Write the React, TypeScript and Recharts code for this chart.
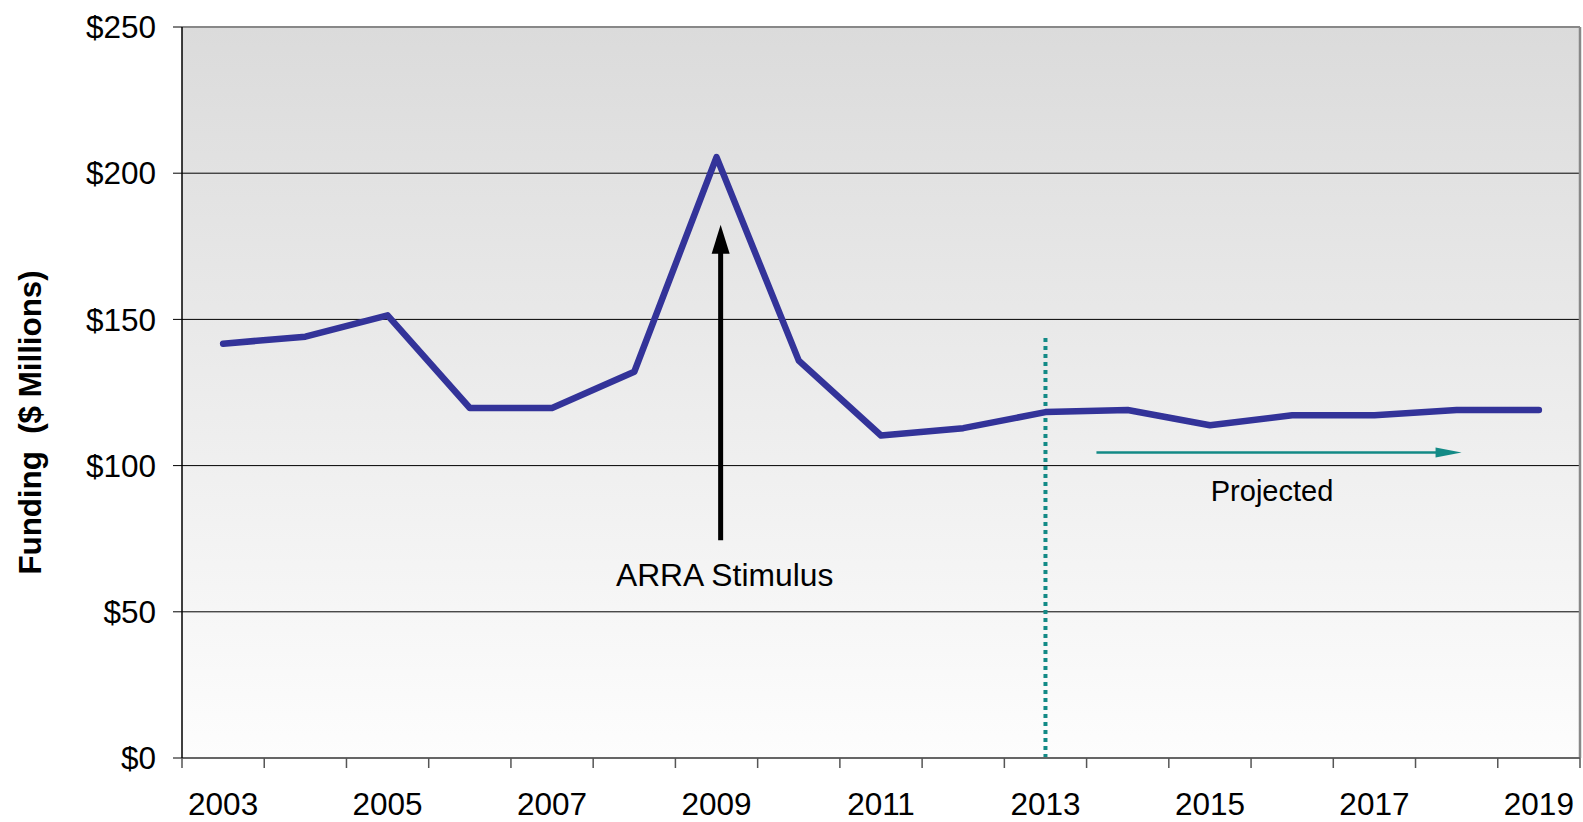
import React from 'react';
import { LineChart, Line, XAxis, YAxis, CartesianGrid, ReferenceLine } from 'recharts';

const years = [2003, 2004, 2005, 2006, 2007, 2008, 2009, 2010, 2011, 2012, 2013, 2014, 2015, 2016, 2017, 2018, 2019];
const funding = [141.7, 144.1, 151.4, 119.7, 119.7, 132.1, 205.5, 135.9, 110.3, 112.8, 118.3, 119, 113.8, 117.2, 117.2, 119, 119];
const yTicks = [0, 50, 100, 150, 200, 250];
const labelYears = [2003, 2005, 2007, 2009, 2011, 2013, 2015, 2017, 2019];

const data = years.map((year, i) => ({ year, funding: funding[i] }));
// tick marks sit between the years, labels on every other year
const boundaries = [years[0] - 0.5, ...years.map((y) => y + 0.5)];
const xTicks = [...boundaries, ...labelYears].sort((a, b) => a - b);

const FONT = '"Liberation Sans", Arial, sans-serif';
const TEAL = '#138a86';

const XTick = (props: any) => {
  const { x, y, payload } = props;
  const v = payload.value;
  if (v % 1 !== 0) {
    return <line x1={x} x2={x} y1={y} y2={y + 10} stroke="#555" strokeWidth={1.5} />;
  }
  return (
    <text x={x} y={y + 57} textAnchor="middle" fontSize={31.5} fontFamily={FONT} fill="#000">
      {v}
    </text>
  );
};

const StimulusArrow = (p: any) => {
  const { x1, y1, x2, y2 } = p;
  return (
    <g>
      <line x1={x1} y1={y1} x2={x2} y2={y2 + 26} stroke="#000" strokeWidth={5} />
      <polygon points={`${x2},${y2} ${x2 - 9},${y2 + 29} ${x2 + 9},${y2 + 29}`} fill="#000" />
      <text x={x1 + 4} y={y1 + 46} textAnchor="middle" fontSize={31.8} fontFamily={FONT} fill="#000">
        ARRA Stimulus
      </text>
    </g>
  );
};

const ProjectedArrow = (p: any) => {
  const { x1, y1, x2, y2 } = p;
  return (
    <g>
      <line x1={x1} y1={y1} x2={x2 - 22} y2={y2} stroke={TEAL} strokeWidth={2.5} />
      <polygon points={`${x2},${y2} ${x2 - 26},${y2 - 5} ${x2 - 26},${y2 + 5}`} fill={TEAL} />
      <text x={(x1 + x2) / 2 - 7} y={y1 + 49} textAnchor="middle" fontSize={29} fontFamily={FONT} fill="#000">
        Projected
      </text>
    </g>
  );
};

const YLabel = (props: any) => {
  const { viewBox } = props;
  const cx = viewBox.x + 30;
  const cy = viewBox.y + viewBox.height / 2 + 30;
  return (
    <text
      x={cx}
      y={cy}
      transform={`rotate(-90, ${cx}, ${cy})`}
      textAnchor="middle"
      dominantBaseline="central"
      fontSize={31.3}
      fontWeight="bold"
      fontFamily={FONT}
      fill="#000"
      style={{ whiteSpace: 'pre' }}
    >
      {'Funding  ($ Millions)'}
    </text>
  );
};

export default function App() {
  return (
    <div style={{ position: 'absolute', left: 0, top: 0, background: '#fff' }}>
      <LineChart
        width={1583}
        height={822}
        data={data}
        margin={{ top: 27, right: 3, bottom: 0, left: 0 }}
        style={{ fontFamily: FONT }}
      >
        <defs>
          <linearGradient id="bgGrad" x1="0" y1="0" x2="0" y2="1">
            <stop offset="0%" stopColor="#dbdbdb" />
            <stop offset="100%" stopColor="#fdfdfd" />
          </linearGradient>
        </defs>
        <CartesianGrid vertical={false} stroke="#000" strokeWidth={1} fill="url(#bgGrad)" fillOpacity={1} />
        <XAxis
          dataKey="year"
          type="number"
          domain={[boundaries[0], boundaries[boundaries.length - 1]]}
          ticks={xTicks}
          interval={0}
          tick={<XTick />}
          tickLine={false}
          tickSize={0}
          tickMargin={0}
          axisLine={{ stroke: '#666', strokeWidth: 2 }}
          height={64}
        />
        <YAxis
          domain={[0, 250]}
          ticks={yTicks}
          interval={0}
          width={182}
          tickSize={9}
          tickMargin={17}
          tickFormatter={(v: number) => `$${v}`}
          tick={{ fontSize: 31.5, fill: '#000', fontFamily: FONT }}
          tickLine={{ stroke: '#000' }}
          axisLine={{ stroke: '#000', strokeWidth: 1.5 }}
          label={<YLabel />}
        />
        <ReferenceLine y={250} stroke="#888" strokeWidth={2} />
        <ReferenceLine x={boundaries[boundaries.length - 1]} stroke="#888" strokeWidth={2.5} />
        <ReferenceLine
          segment={[{ x: 2013, y: 0 }, { x: 2013, y: 144.2 }]}
          stroke={TEAL}
          strokeWidth={4}
          strokeDasharray="4 4"
        />
        <ReferenceLine
          segment={[{ x: 2009.05, y: 74.5 }, { x: 2009.05, y: 182.4 }]}
          shape={(p: any) => <StimulusArrow {...p} />}
        />
        <ReferenceLine
          segment={[{ x: 2013.62, y: 104.5 }, { x: 2018.06, y: 104.5 }]}
          shape={(p: any) => <ProjectedArrow {...p} />}
        />
        <Line
          dataKey="funding"
          stroke="#333399"
          strokeWidth={6.5}
          dot={false}
          strokeLinecap="round"
          strokeLinejoin="round"
          isAnimationActive={false}
        />
      </LineChart>
    </div>
  );
}
